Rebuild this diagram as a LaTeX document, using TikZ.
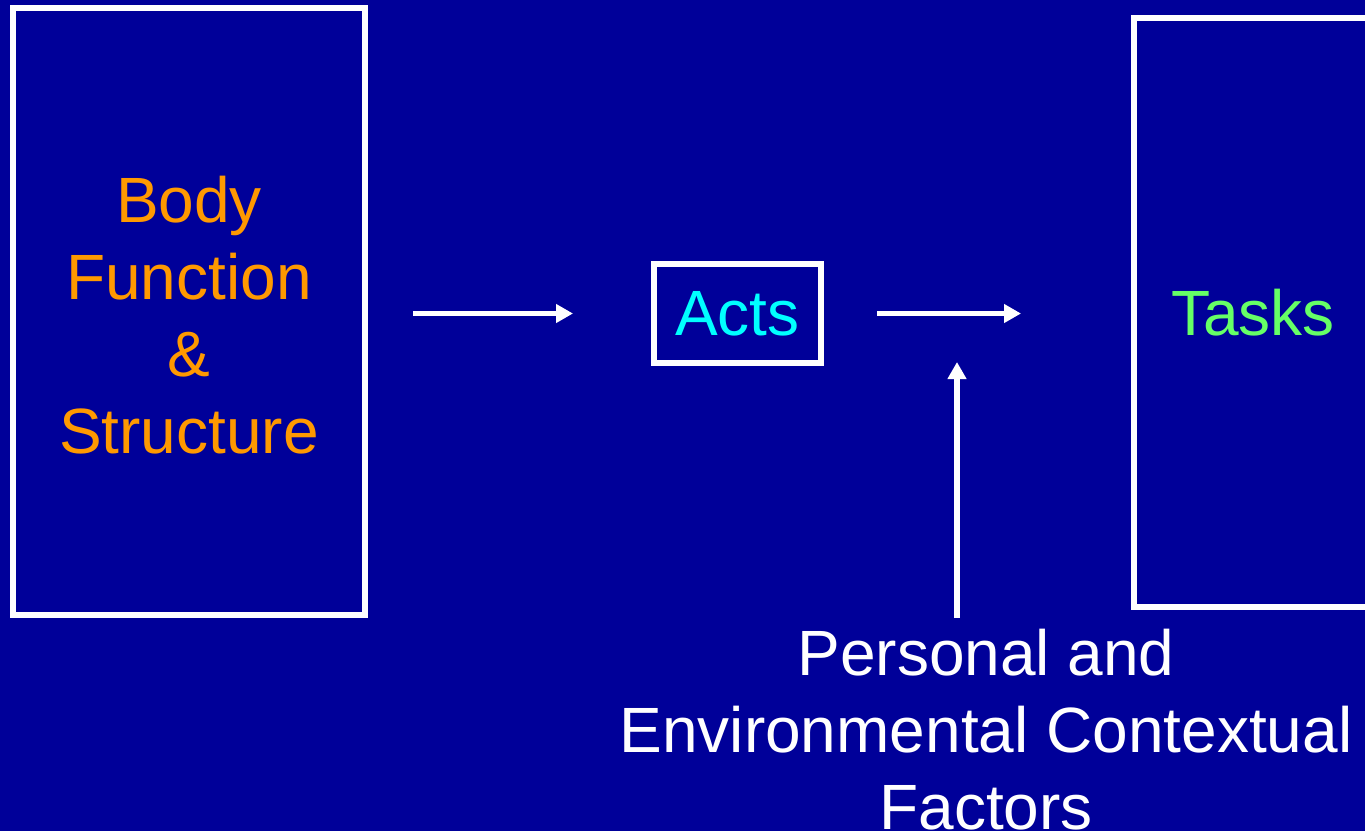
\documentclass[tikz,border=0pt]{standalone}
\usepackage{fontspec}
\setmainfont{Liberation Sans}
\usetikzlibrary{arrows.meta}
\definecolor{bg}{HTML}{000099}
\definecolor{bodyorange}{HTML}{FF9900}
\definecolor{actscyan}{HTML}{00FFFF}
\definecolor{taskgreen}{HTML}{66FF66}
\newcommand{\bigfont}{\fontsize{64}{77}\selectfont}
\tikzset{
  frame/.style={draw=white, line width=6pt, inner sep=0pt, align=center, font=\bigfont},
  flow/.style={draw=white, line width=5.5pt, -{Triangle[length=17pt,width=18pt]}},
  label/.style={text=white, inner sep=0pt, align=center, font=\bigfont}
}
\begin{document}
\begin{tikzpicture}[x=1pt,y=-1pt]
  \fill[bg] (0,0) rectangle (1365,831);
  \clip (0,0) rectangle (1365,831);
  \useasboundingbox (0,0) rectangle (1365,831);
  \node[frame, minimum width=352pt, minimum height=607pt] (body) at (189,311.5) {};
  \node[label, text=bodyorange] (bodytext) at ([yshift=-4pt]body.center)
    {Body\\Function\\\&\\Structure};
  \node[frame, text=actscyan, minimum width=167pt, minimum height=99pt] (acts) at (737.5,313.5) {Acts};
  \node[frame, minimum width=238pt, minimum height=589pt] (tasks) at (1253,312.5) {};
  \node[label, text=taskgreen] (taskstext) at (tasks.center) {Tasks};
  \node[label, anchor=north] (factors) at (986,629)
    {Personal and\\Environmental Contextual\\Factors};
  \coordinate (mid) at (957,313);
  \draw[flow, shorten <=45pt, shorten >=78pt] (body.east |- acts.west) -- (acts.west);
  \draw[flow, shorten <=53pt, shorten >=110pt] (acts.east) -- (acts.east -| tasks.west);
  \draw[flow, line width=6pt, shorten <=11pt, shorten >=49pt] (mid |- factors.north) -- (mid);
\end{tikzpicture}
\end{document}
